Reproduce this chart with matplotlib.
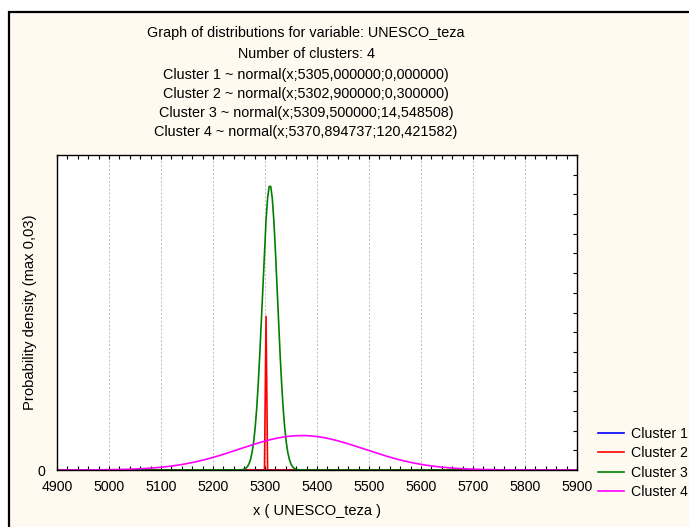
import numpy as np
import matplotlib.pyplot as plt
from matplotlib.patches import Rectangle

plt.rcParams['font.family'] = ['Liberation Sans', 'DejaVu Sans']

# cluster parameters as printed on the chart
clusters = ['Cluster 1', 'Cluster 2', 'Cluster 3', 'Cluster 4']
means = [5305.000000, 5302.900000, 5309.500000, 5370.894737]
sds = [0.000000, 0.300000, 14.548508, 120.421582]
means_txt = ['5305,000000', '5302,900000', '5309,500000', '5370,894737']
sds_txt = ['0,000000', '0,300000', '14,548508', '120,421582']
colors = ['#0000FF', '#FF0000', '#008000', '#FF00FF']

variable = 'UNESCO_teza'
xticks = [4900, 5000, 5100, 5200, 5300, 5400, 5500, 5600, 5700, 5800, 5900]

# evaluation grid of the densities (STATISTICA samples coarsely)
xs = np.arange(4900, 5901, 3)

W, H = 689, 527
fig = plt.figure(figsize=(W / 100, H / 100), dpi=100)
fig.patch.set_facecolor('white')

# cream panel with black frame, running off the right / bottom edge
fig.patches.append(Rectangle((9 / W, -0.05), 1.1, 1 - 12 / H + 0.05,
                             transform=fig.transFigure, facecolor='#FFFAF0',
                             edgecolor='black', linewidth=1.6, zorder=-5))

ax = fig.add_axes([57 / W, (H - 470) / H, 520 / W, 315 / H])
ax.set_facecolor('white')

for name, m, s, c in zip(clusters, means, sds, colors):
    if s > 0:
        ys = np.exp(-0.5 * ((xs - m) / s) ** 2) / (s * np.sqrt(2 * np.pi))
    else:
        ys = np.zeros_like(xs, dtype=float)
    ax.plot(xs, ys, color=c, lw=1.2, label=name)

ax.set_xlim(4900, 5900)
ax.set_ylim(0, 0.0303)

ax.set_xticks(xticks)
ax.set_xticks(np.arange(4900, 5901, 20), minor=True)
ax.xaxis.grid(True, which='major', color='#BDBDBD', linestyle=(0, (2, 2)), lw=0.7)
ax.tick_params(axis='x', which='both', direction='in', top=True, bottom=True,
               length=3, width=0.8, labelsize=10.2, pad=7.5)

ax.set_yticks([0])
ax.set_yticklabels(['0'])
ax.set_yticks(np.linspace(0, 0.0303, 17), minor=True)
ax.tick_params(axis='y', which='major', left=False, right=False, labelsize=10.2, pad=5)
ax.tick_params(axis='y', which='minor', direction='in', left=False, right=True,
               length=3, width=0.8)

for sp in ax.spines.values():
    sp.set_color('black')
    sp.set_linewidth(1.0)

fig.text(317 / W, 1 - 511 / H, 'x ( %s )' % variable, ha='center', va='center', fontsize=10.5)
fig.text(30 / W, 1 - 312 / H, 'Probability density (max 0,03)', rotation=90,
         ha='center', va='center', fontsize=10.6)

title_lines = ['Graph of distributions for variable: %s' % variable,
               'Number of clusters: %d' % len(clusters)]
for name, mt, st in zip(clusters, means_txt, sds_txt):
    title_lines.append('%s ~ normal(x;%s;%s)' % (name, mt, st))
ypos = [33, 54, 75, 94, 113, 132]
for t, yp in zip(title_lines, ypos):
    fig.text(306 / W, 1 - yp / H, t, ha='center', va='center', fontsize=10.4)

fig.legend(loc='upper left', bbox_to_anchor=(598 / W, 1 - 427 / H), frameon=False,
           fontsize=10.2, handlelength=1.8, handletextpad=0.5, labelspacing=0.38,
           borderpad=0, borderaxespad=0)

fig.savefig('out.png', dpi=100, facecolor=fig.get_facecolor())
